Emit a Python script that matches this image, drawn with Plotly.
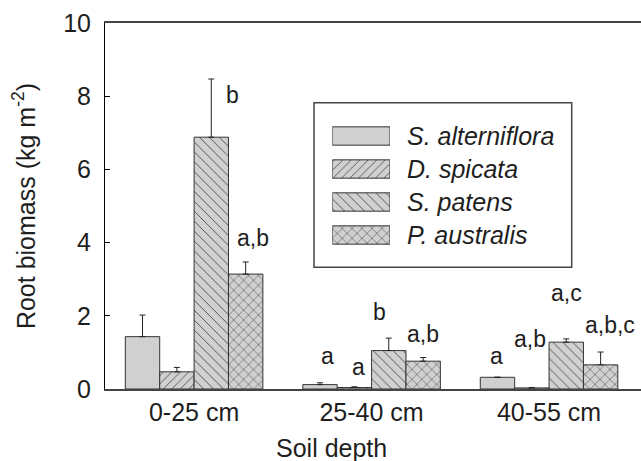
import plotly.graph_objects as go

# ---------------- data ----------------
depths = ["0-25 cm", "25-40 cm", "40-55 cm"]
species = ["S. alterniflora", "D. spicata", "S. patens", "P. australis"]

s_alterniflora = [1.43, 0.12, 0.32]
d_spicata = [0.47, 0.04, 0.03]
s_patens = [6.88, 1.05, 1.28]
p_australis = [3.14, 0.76, 0.66]

s_alterniflora_se = [0.59, 0.05, 0.00]
d_spicata_se = [0.12, 0.02, 0.01]
s_patens_se = [1.59, 0.34, 0.09]
p_australis_se = [0.33, 0.10, 0.35]

s_alterniflora_letters = ["", "a", "a"]
d_spicata_letters = ["", "a", "a,b"]
s_patens_letters = ["b", "b", "a,c"]
p_australis_letters = ["a,b", "a,b", "a,b,c"]

y_ticks = [0, 2, 4, 6, 8, 10]

values = [s_alterniflora, d_spicata, s_patens, p_australis]
errors = [s_alterniflora_se, d_spicata_se, s_patens_se, p_australis_se]
letters = [s_alterniflora_letters, d_spicata_letters, s_patens_letters, p_australis_letters]

# ---------------- styling / layout ----------------
W, H = 641, 461
ML, MR, MT, MB = 105, 0, 23, 72
FONT = "Liberation Sans, Arial, Helvetica, sans-serif"
TXT = "#1e1e1e"
FILL = "#d0d0d0"
EDGE = "#333333"
BARGAP = 0.225
X_RANGE = [-0.502, 2.518]

STYLES = [
    dict(shape="", size=8, solidity=0.2),
    dict(shape="/", size=6, solidity=0.12),
    dict(shape="\\", size=7, solidity=0.11),
    dict(shape="x", size=7, solidity=0.13),
]

# pixel nudges of the significance letters (dx right, dy up) relative to
# bar centre / top of error bar
LETTER_NUDGE = {
    (2, 0): (21, -16), (3, 0): (7, 24),
    (0, 1): (7, 27), (1, 1): (4, 20), (2, 1): (-9, 26), (3, 1): (0, 24),
    (0, 2): (-1, 21), (1, 2): (-2, 49), (2, 2): (0, 46), (3, 2): (9, 27),
}

fig = go.Figure()

for i, name in enumerate(species):
    st = STYLES[i]
    fig.add_trace(go.Bar(
        x=depths, y=values[i], name=name, showlegend=False,
        marker=dict(
            color=FILL,
            line=dict(color=EDGE, width=1),
            pattern=dict(shape=st["shape"], size=st["size"], solidity=st["solidity"],
                         fgcolor=EDGE, bgcolor=FILL, fillmode="replace"),
        ),
        error_y=dict(type="data", symmetric=False, array=errors[i],
                     arrayminus=[0] * len(depths), color="#222222",
                     thickness=1, width=3),
    ))

# significance letters
slot = (1 - BARGAP) / len(species)
annotations = []
for i in range(len(species)):
    for g in range(len(depths)):
        txt = letters[i][g]
        if not txt:
            continue
        dx, dy = LETTER_NUDGE.get((i, g), (0, 24))
        annotations.append(dict(
            x=g + (i - (len(species) - 1) / 2) * slot, xref="x",
            y=values[i][g] + errors[i][g], yref="y",
            text=txt, showarrow=False, xanchor="center", yanchor="middle",
            xshift=dx, yshift=dy, font=dict(family=FONT, size=23, color=TXT),
        ))

# ---------------- legend (drawn as a key on its own small axes) ----------------
pw, ph = W - ML - MR, H - MT - MB
def px_x(p):
    return (p - ML) / pw
def px_y(p):
    return (H - MB - p) / ph

fig.add_trace(go.Bar(
    x=[1] * len(species), y=species, orientation="h", xaxis="x2", yaxis="y2",
    width=0.555, showlegend=False, hoverinfo="skip",
    marker=dict(
        color=FILL, line=dict(color=EDGE, width=1),
        pattern=dict(shape=[s["shape"] for s in STYLES],
                     size=[s["size"] for s in STYLES],
                     solidity=[s["solidity"] for s in STYLES],
                     fgcolor=EDGE, bgcolor=FILL, fillmode="replace"),
    ),
))
for name in species:
    annotations.append(dict(
        x=1, xref="x2", y=name, yref="y2", text=f"<i>{name}</i>",
        showarrow=False, xanchor="left", yanchor="middle", xshift=15,
        font=dict(family=FONT, size=25, color=TXT),
    ))

# x-axis title
annotations.append(dict(
    x=px_x(331.5), xref="paper", y=0, yref="paper", yshift=-59,
    text="Soil depth", showarrow=False, xanchor="center", yanchor="middle",
    font=dict(family=FONT, size=25, color=TXT),
))

fig.update_layout(
    width=W, height=H,
    margin=dict(l=ML, r=MR, t=MT, b=MB, pad=0),
    paper_bgcolor="white", plot_bgcolor="white",
    barmode="group", bargap=BARGAP, bargroupgap=0,
    font=dict(family=FONT, size=25, color=TXT),
    annotations=annotations,
    shapes=[dict(type="rect", xref="paper", yref="paper",
                 x0=px_x(314), x1=px_x(571.7), y0=px_y(267.3), y1=px_y(102.7),
                 line=dict(color="#444444", width=1.5), fillcolor="rgba(0,0,0,0)",
                 layer="above")],
    xaxis=dict(
        type="category", range=X_RANGE, showline=True, linecolor="#444444",
        linewidth=1.5, mirror=True, ticks="", showgrid=False, zeroline=False,
        tickfont=dict(family=FONT, size=25, color=TXT), ticklabelstandoff=0,
    ),
    yaxis=dict(
        range=[0, 10], tickvals=y_ticks, ticks="inside", ticklen=5,
        tickcolor="#000000", tickwidth=1, showline=True, linecolor="#000000",
        linewidth=1, showgrid=False, zeroline=False,
        tickfont=dict(family=FONT, size=25, color=TXT), ticklabelstandoff=8,
        title=dict(text="Root biomass (kg m<sup>-2</sup>)", standoff=20,
                   font=dict(family=FONT, size=25, color=TXT)),
    ),
    xaxis2=dict(domain=[px_x(332.3), px_x(390)], range=[0, 1], anchor="y2",
                visible=False, fixedrange=True),
    yaxis2=dict(domain=[px_y(251.5), px_y(119.5)], type="category",
                categoryorder="array", categoryarray=species, autorange="reversed",
                anchor="x2", visible=False, fixedrange=True),
)

fig.write_html("out.html", config={"displayModeBar": False},
               post_script="document.body.style.margin='0px';")
